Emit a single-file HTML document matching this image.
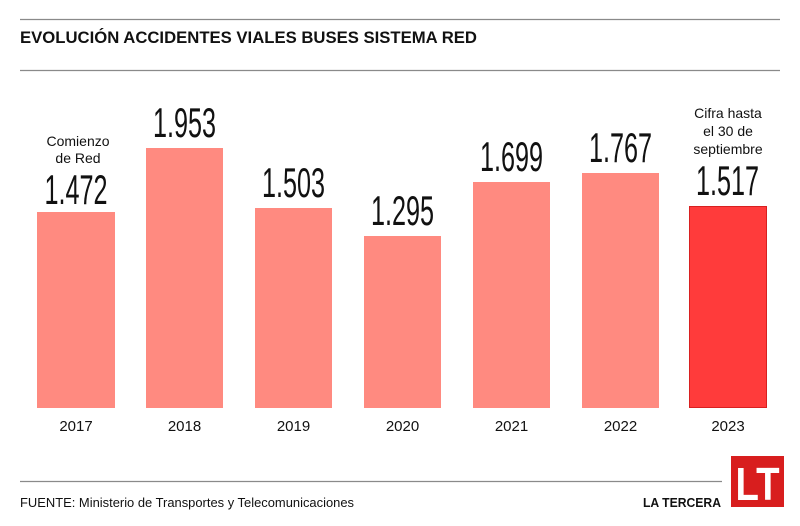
<!DOCTYPE html>
<html><head><meta charset="utf-8"><style>
html,body{margin:0;padding:0;background:#fff;}
svg{display:block;font-family:"Liberation Sans",sans-serif;}
</style></head><body>
<svg width="800" height="526" viewBox="0 0 800 526" xmlns="http://www.w3.org/2000/svg">
<rect width="800" height="526" fill="#fff"/>
<line x1="20" y1="19.5" x2="780" y2="19.5" stroke="#8a8a8a" stroke-width="1.2"/>
<line x1="20" y1="70.5" x2="780" y2="70.5" stroke="#8a8a8a" stroke-width="1.2"/>
<text x="20" y="43" font-size="17" font-weight="bold" fill="#111" textLength="457" lengthAdjust="spacingAndGlyphs">EVOLUCIÓN ACCIDENTES VIALES BUSES SISTEMA RED</text>

<g fill="#ff8a80">
<rect x="37" y="212" width="78" height="196"/>
<rect x="146" y="148" width="77" height="260"/>
<rect x="255" y="208" width="77" height="200"/>
<rect x="364" y="236" width="77" height="172"/>
<rect x="473" y="182" width="77" height="226"/>
<rect x="582" y="173" width="77" height="235"/>
</g>
<rect x="689.5" y="206.5" width="77" height="201" fill="#ff3b3b" stroke="#d82020" stroke-width="1"/>

<g font-size="42" fill="#111" text-anchor="middle">
<text transform="translate(76,204) scale(0.6,1)">1.472</text>
<text transform="translate(184.5,137) scale(0.6,1)">1.953</text>
<text transform="translate(293.5,197) scale(0.6,1)">1.503</text>
<text transform="translate(402.5,225) scale(0.6,1)">1.295</text>
<text transform="translate(511.5,171) scale(0.6,1)">1.699</text>
<text transform="translate(620.5,162) scale(0.6,1)">1.767</text>
<text transform="translate(727.5,195) scale(0.6,1)">1.517</text>
</g>

<g font-size="14" fill="#111" text-anchor="middle">
<text x="78" y="146">Comienzo</text>
<text x="78" y="163">de Red</text>
<text x="728" y="118">Cifra hasta</text>
<text x="728" y="136">el 30 de</text>
<text x="728" y="154">septiembre</text>
</g>

<g font-size="15" fill="#111" text-anchor="middle">
<text x="76" y="431">2017</text>
<text x="184.5" y="431">2018</text>
<text x="293.5" y="431">2019</text>
<text x="402.5" y="431">2020</text>
<text x="511.5" y="431">2021</text>
<text x="620.5" y="431">2022</text>
<text x="728" y="431">2023</text>
</g>

<line x1="20" y1="481.5" x2="722" y2="481.5" stroke="#8a8a8a" stroke-width="1.2"/>
<text x="20" y="507" font-size="13" fill="#111" textLength="334" lengthAdjust="spacingAndGlyphs">FUENTE: Ministerio de Transportes y Telecomunicaciones</text>
<text x="643" y="507" font-size="12.5" font-weight="bold" fill="#111" textLength="78" lengthAdjust="spacingAndGlyphs">LA TERCERA</text>
<rect x="731" y="456" width="53" height="51" fill="#d81e1e"/>
<text x="757.5" y="500" font-size="46" font-weight="bold" fill="#fff" text-anchor="middle" textLength="44" lengthAdjust="spacingAndGlyphs">LT</text>
</svg>
</body></html>
